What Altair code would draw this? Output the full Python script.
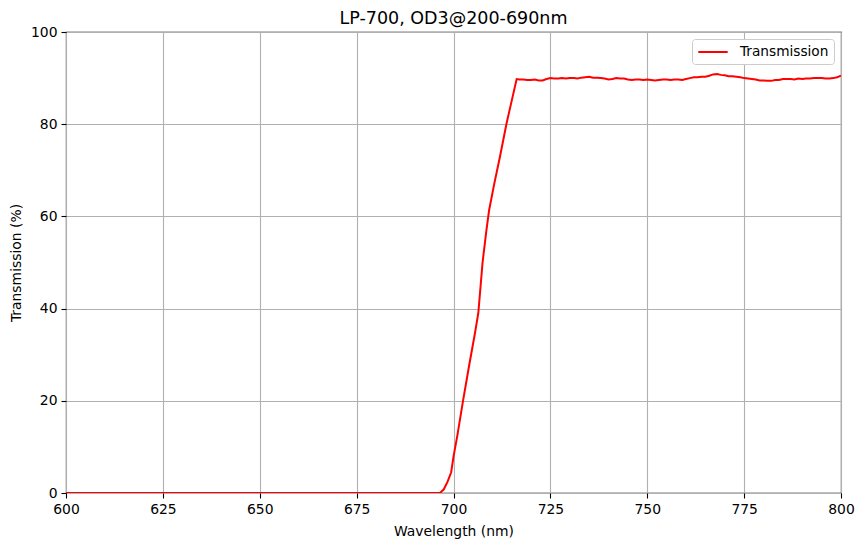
import altair as alt
import pandas as pd

wavelength = [600, 650, 696.5, 697.5, 698.5, 699.4, 700.0, 701.0, 702.5, 704.0, 705.5, 706.4,
              707.5, 708.5, 709.2, 710.5, 712.0, 713.7, 715.0, 716.3,
              717, 718, 719, 720, 721, 722, 723, 724, 725, 726, 727, 728, 729, 730, 731, 732,
              733, 734, 735, 736, 737, 738, 739, 740, 741, 742, 743, 744, 745, 746, 747, 748,
              749, 750, 751, 752, 753, 754, 755, 756, 757, 758, 759, 760, 761, 762, 763, 764,
              765, 766, 767, 768, 769, 770, 771, 772, 773, 774, 775, 776, 777, 778, 779, 780,
              781, 782, 783, 784, 785, 786, 787, 788, 789, 790, 791, 792, 793, 794, 795, 796,
              797, 798, 799, 800]
transmission = [0, 0, 0, 0.8, 2.5, 4.5, 7.9, 12.5, 20.2, 27.5, 34.5, 39,
                50, 57, 61.4, 67, 73, 80.2, 85, 89.8,
                89.7, 89.7, 89.6, 89.6, 89.7, 89.5, 89.5, 89.8, 90.0, 89.9, 89.9, 90.0, 89.9, 90.0, 90.0, 89.9,
                90.1, 90.2, 90.3, 90.1, 90.1, 90.0, 89.9, 89.7, 89.8, 90.0, 89.9, 89.9, 89.7, 89.6, 89.7, 89.7,
                89.6, 89.7, 89.6, 89.5, 89.6, 89.7, 89.7, 89.6, 89.7, 89.7, 89.6, 89.8, 90.0, 90.2, 90.2, 90.3,
                90.3, 90.5, 90.8, 90.9, 90.7, 90.6, 90.4, 90.4, 90.3, 90.2, 90.0, 89.9, 89.8, 89.7, 89.5, 89.5,
                89.4, 89.4, 89.6, 89.6, 89.8, 89.8, 89.8, 89.7, 89.9, 89.8, 89.9, 89.9, 90.0, 90.0, 90.0, 89.9,
                89.9, 90.0, 90.2, 90.5]
series = ["Transmission"] * len(wavelength)

df = pd.DataFrame({"wl": wavelength, "t": transmission, "s": series})

font = "DejaVu Sans"

chart = alt.Chart(df).mark_line(strokeWidth=2, clip=True).encode(
    x=alt.X("wl:Q", title="Wavelength (nm)",
            scale=alt.Scale(domain=[600, 800], nice=False, zero=False),
            axis=alt.Axis(values=[600, 625, 650, 675, 700, 725, 750, 775, 800], format="d")),
    y=alt.Y("t:Q", title="Transmission (%)",
            scale=alt.Scale(domain=[0, 100], nice=False),
            axis=alt.Axis(values=[0, 20, 40, 60, 80, 100], format="d")),
    color=alt.Color("s:N", scale=alt.Scale(domain=["Transmission"], range=["#ff0000"]),
                    legend=alt.Legend(title=None, orient="top-right", offset=7,
                                      symbolType="M-2.1,0H2.1", symbolSize=196, symbolStrokeWidth=2,
                                      symbolOffset=8,
                                      labelFont=font, labelFontSize=13.7, labelColor="black",
                                      labelOffset=19,
                                      fillColor="white", strokeColor="#cccccc", cornerRadius=3,
                                      padding=5)),
).properties(
    width=775, height=461,
    title=alt.TitleParams("LP-700, OD3@200-690nm", font=font, fontSize=17.5, fontWeight="normal",
                          color="black", offset=7, dy=9),
    autosize=alt.AutoSizeParams(type="none"),
    padding={"left": 58, "top": 24, "right": 14, "bottom": 46},
).configure_view(
    stroke="black", strokeWidth=1.1
).configure_axis(
    labelFont=font, labelFontSize=13.9, labelColor="black", labelFlush=False,
    titleFont=font, titleFontSize=13.9, titleColor="black", titleFontWeight="normal",
    grid=True, gridColor="#b0b0b0", gridWidth=1.1,
    domain=False, tickColor="black", tickSize=5, tickWidth=1.1, labelPadding=4,
).configure_axisX(titlePadding=9).configure_axisY(titlePadding=7)

chart.save("out.html", embed_options={"renderer": "svg", "actions": False})
